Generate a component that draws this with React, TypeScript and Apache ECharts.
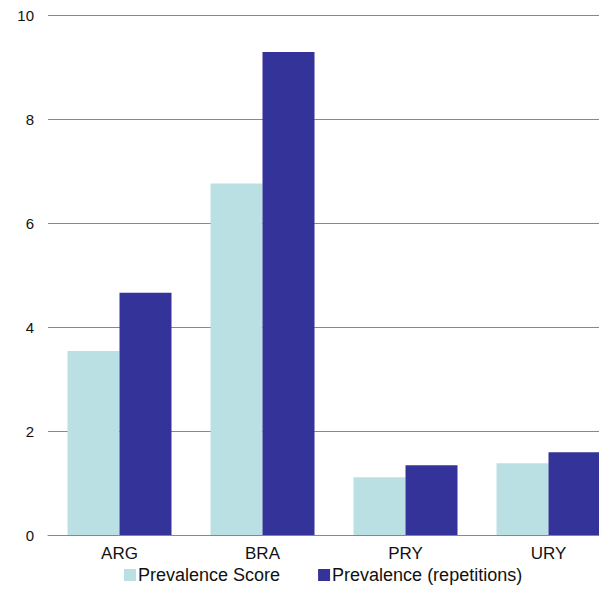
import React, { useEffect, useRef } from "react";
import * as echarts from "echarts";

const categories = ["ARG", "BRA", "PRY", "URY"];
const prevalenceScore = [3.54, 6.76, 1.11, 1.38];
const prevalenceRepetitions = [4.66, 9.29, 1.34, 1.59];
const yTicks = [0, 2, 4, 6, 8, 10];

export default function App() {
  const ref = useRef<HTMLDivElement>(null);
  useEffect(() => {
    if (!ref.current) return;
    const chart = echarts.init(ref.current, undefined, { renderer: "svg" });
    chart.setOption({
      animation: false,
      textStyle: { fontFamily: "'Liberation Sans', Arial, sans-serif" },
      grid: { left: 48, top: 15, width: 572, height: 520 },
      legend: {
        left: 119,
        top: 561,
        itemWidth: 12,
        itemHeight: 12,
        itemGap: 38,
        icon: "rect",
        textStyle: { fontSize: 18, color: "#111", padding: [0, 0, 0, -3] },
        data: ["Prevalence Score", "Prevalence (repetitions)"],
      },
      xAxis: {
        type: "category",
        data: categories,
        axisLine: { lineStyle: { color: "#888", width: 1 } },
        axisTick: { show: false },
        axisLabel: { fontSize: 17, color: "#111", margin: 10 },
      },
      yAxis: {
        type: "value",
        min: yTicks[0],
        max: yTicks[yTicks.length - 1],
        interval: 2,
        axisLine: { show: false },
        axisTick: { show: false },
        splitLine: { lineStyle: { color: "#888", width: 1 } },
        axisLabel: { fontSize: 15, color: "#111", margin: 14 },
      },
      series: [
        {
          name: "Prevalence Score",
          type: "bar",
          data: prevalenceScore,
          barWidth: 52,
          barGap: "0%",
          itemStyle: { color: "#BAE0E3" },
        },
        {
          name: "Prevalence (repetitions)",
          type: "bar",
          data: prevalenceRepetitions,
          barWidth: 52,
          barGap: "0%",
          itemStyle: { color: "#333399" },
        },
      ],
    });
    return () => chart.dispose();
  }, []);
  return (
    <div style={{ width: 607, height: 614, margin: -8, overflow: "hidden" }}>
      <div ref={ref} style={{ width: 625, height: 614 }} />
    </div>
  );
}
